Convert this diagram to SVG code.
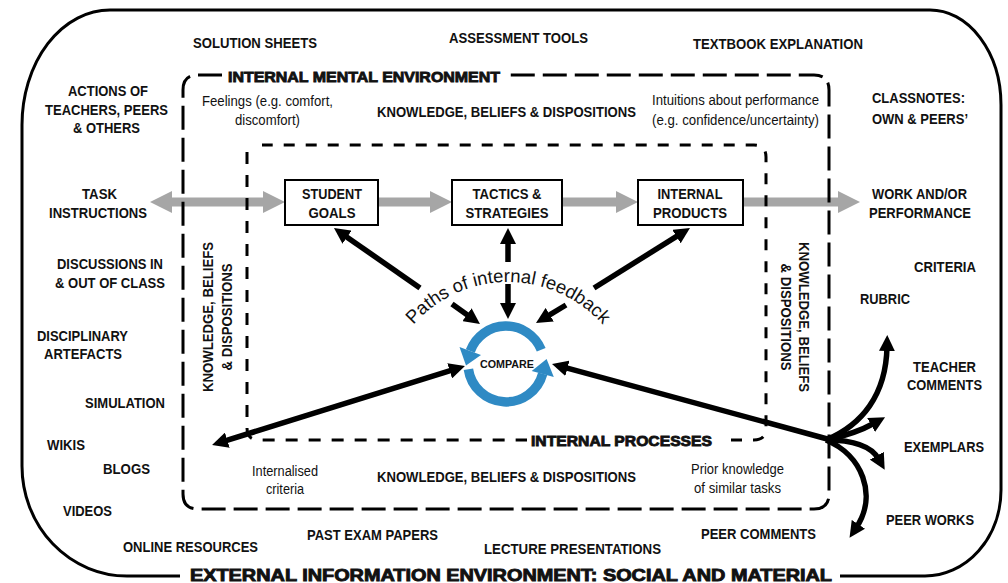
<svg xmlns="http://www.w3.org/2000/svg" width="1008" height="583" viewBox="0 0 1008 583">
<style>
text{font-family:"Liberation Sans",Arial,sans-serif;fill:#111;text-anchor:middle}
.b{font-size:15.5px;font-weight:bold}
.n{font-size:14px}
.h{font-size:15.5px;font-weight:bold;stroke:#111;stroke-width:0.9}
.c{font-size:11px;font-weight:bold}
.gray{fill:#a6a6a6}
.blk{stroke:#000;stroke-width:5.5;fill:none}
.blue{stroke:#2f8ac4;stroke-width:9.5;fill:none}
.box{fill:#fff;stroke:#000;stroke-width:2}
</style>
<defs>
<marker id="ah" viewBox="0 0 16 16" markerWidth="16" markerHeight="16" refX="4" refY="8" orient="auto-start-reverse" markerUnits="userSpaceOnUse">
<path d="M0,0 L16,8 L0,16 Z" fill="#000"/>
</marker>
<path id="arcText" d="M 411.5 327 A 126 126 0 0 1 604.5 327"/>
</defs>
<rect width="1008" height="583" fill="#fff"/>

<g id="frames">
<path d="M 180 576 L 127 576 A 105 110 0 0 1 22 466 L 22 125 A 88 115 0 0 1 110 10 L 930 10 A 71 95 0 0 1 1001 105 L 1001 490 A 76 86 0 0 1 925 576 L 840 576" fill="none" stroke="#000" stroke-width="3"/>
</g>

<g id="gray-arrows">
<polygon class="gray" points="150,202 172,191 172,197.5 263,197.5 263,191 285,202 263,213 263,206.5 172,206.5 172,213"/>
<polygon class="gray" points="378,197.5 430,197.5 430,191 452,202 430,213 430,206.5 378,206.5"/>
<polygon class="gray" points="562,197.5 616,197.5 616,191 638,202 616,213 616,206.5 562,206.5"/>
<polygon class="gray" points="743,197.5 838,197.5 838,191 860,202 838,213 838,206.5 743,206.5"/>
</g>

<g id="mental-environment">
<path d="M 222 75 L 198 75 Q 183 75 183 90 L 183 494 Q 183 509 198 509 L 814 509 Q 829 509 829 494 L 829 90 Q 829 75 814 75 L 507 75" fill="none" stroke="#000" stroke-width="3" stroke-dasharray="24 8"/>
<text class="h" x="364" y="82" textLength="272" lengthAdjust="spacingAndGlyphs">INTERNAL MENTAL ENVIRONMENT</text>
</g>

<g id="internal-processes">
<path d="M 247 152 L 247 428 Q 247 440 259 440 L 527 440" fill="none" stroke="#000" stroke-width="3" stroke-dasharray="12 11"/>
<path d="M 731 440 L 754 440 Q 766 440 766 428 L 766 157 Q 766 145 754 145 L 262 145" fill="none" stroke="#000" stroke-width="3" stroke-dasharray="11 11"/>
<text class="h" x="621.5" y="446" textLength="181" lengthAdjust="spacingAndGlyphs">INTERNAL PROCESSES</text>
</g>

<g id="student-goals">
<rect class="box" x="285" y="180" width="93" height="45"/>
<text class="b" x="332" y="199" textLength="60" lengthAdjust="spacingAndGlyphs">STUDENT</text>
<text class="b" x="332" y="218" textLength="47" lengthAdjust="spacingAndGlyphs">GOALS</text>
</g>
<g id="tactics-strategies">
<rect class="box" x="452" y="180" width="110" height="45"/>
<text class="b" x="507" y="199" textLength="69" lengthAdjust="spacingAndGlyphs">TACTICS &amp;</text>
<text class="b" x="507" y="218" textLength="83" lengthAdjust="spacingAndGlyphs">STRATEGIES</text>
</g>
<g id="internal-products">
<rect class="box" x="638" y="180" width="105" height="45"/>
<text class="b" x="690" y="199" textLength="65" lengthAdjust="spacingAndGlyphs">INTERNAL</text>
<text class="b" x="690" y="218" textLength="74" lengthAdjust="spacingAndGlyphs">PRODUCTS</text>
</g>

<g id="compare">
<path class="blue" d="M 541.2 349.8 A 38 38 0 0 0 470.3 351"/>
<polygon points="481,355 459.5,347 466,365.5" fill="#2f8ac4"/>
<path class="blue" d="M 468.4 369.3 A 38 38 0 0 0 542.7 373.8"/>
<polygon points="531.7,371 553.8,377 546.6,359" fill="#2f8ac4"/>
<text class="c" x="507" y="368" textLength="54" lengthAdjust="spacingAndGlyphs">COMPARE</text>
</g>

<g id="connectors">
<path class="blk" d="M 420 288 L 343.8 234.9" marker-end="url(#ah)"/>
<path class="blk" d="M 452 304 L 470.2 317" marker-end="url(#ah)"/>
<path class="blk" d="M 508 262 L 508 240" marker-end="url(#ah)"/>
<path class="blk" d="M 508 284 L 508 307" marker-end="url(#ah)"/>
<path class="blk" d="M 594 288 L 679.8 234.4" marker-end="url(#ah)"/>
<path class="blk" d="M 566 305 L 546.3 316.8" marker-end="url(#ah)"/>
<path class="blk" d="M 223.5 441.4 L 453.5 369.6" marker-start="url(#ah)" marker-end="url(#ah)"/>
<path class="blk" d="M 831 440 L 563.6 367.2" marker-end="url(#ah)"/>
<path class="blk" d="M 826 440 C 862 425, 886 395, 887 347" marker-end="url(#ah)"/>
<path class="blk" d="M 826 440 Q 855 434 874.6 423" marker-end="url(#ah)"/>
<path class="blk" d="M 826 440 Q 868 440 878.8 459.2" marker-end="url(#ah)"/>
<path class="blk" d="M 826 440 C 862 455, 878 495, 856.2 527.7" marker-end="url(#ah)"/>
</g>

<g id="feedback-label">
<text style="font-size:18.5px"><textPath href="#arcText" startOffset="50%" textLength="214" lengthAdjust="spacingAndGlyphs">Paths of internal feedback</textPath></text>
</g>

<g id="mental-labels">
<text class="n" x="267.5" y="106" textLength="131" lengthAdjust="spacingAndGlyphs">Feelings (e.g. comfort,</text>
<text class="n" x="267.5" y="125" textLength="65" lengthAdjust="spacingAndGlyphs">discomfort)</text>
<text class="b" x="506.5" y="117" textLength="259" lengthAdjust="spacingAndGlyphs">KNOWLEDGE, BELIEFS &amp; DISPOSITIONS</text>
<text class="n" x="735.5" y="105" textLength="167" lengthAdjust="spacingAndGlyphs">Intuitions about performance</text>
<text class="n" x="735.5" y="125" textLength="167" lengthAdjust="spacingAndGlyphs">(e.g. confidence/uncertainty)</text>
<text class="n" x="285" y="476" textLength="66" lengthAdjust="spacingAndGlyphs">Internalised</text>
<text class="n" x="285" y="494" textLength="38" lengthAdjust="spacingAndGlyphs">criteria</text>
<text class="b" x="506.5" y="482" textLength="259" lengthAdjust="spacingAndGlyphs">KNOWLEDGE, BELIEFS &amp; DISPOSITIONS</text>
<text class="n" x="737.5" y="474" textLength="93" lengthAdjust="spacingAndGlyphs">Prior knowledge</text>
<text class="n" x="737.5" y="493" textLength="87" lengthAdjust="spacingAndGlyphs">of similar tasks</text>
<g transform="translate(213,317) rotate(-90)">
<text class="b" x="0" y="0" textLength="150" lengthAdjust="spacingAndGlyphs">KNOWLEDGE, BELIEFS</text>
<text class="b" x="0" y="19" textLength="107" lengthAdjust="spacingAndGlyphs">&amp; DISPOSITIONS</text>
</g>
<g transform="translate(799,317) rotate(90)">
<text class="b" x="0" y="0" textLength="150" lengthAdjust="spacingAndGlyphs">KNOWLEDGE, BELIEFS</text>
<text class="b" x="0" y="18" textLength="107" lengthAdjust="spacingAndGlyphs">&amp; DISPOSITIONS</text>
</g>
</g>

<g id="external-labels">
<text class="b" x="255" y="48" textLength="124" lengthAdjust="spacingAndGlyphs">SOLUTION SHEETS</text>
<text class="b" x="518.5" y="43" textLength="139" lengthAdjust="spacingAndGlyphs">ASSESSMENT TOOLS</text>
<text class="b" x="778" y="49" textLength="170" lengthAdjust="spacingAndGlyphs">TEXTBOOK EXPLANATION</text>
<text class="b" x="108" y="96" textLength="80" lengthAdjust="spacingAndGlyphs">ACTIONS OF</text>
<text class="b" x="106.5" y="115" textLength="123" lengthAdjust="spacingAndGlyphs">TEACHERS, PEERS</text>
<text class="b" x="106.5" y="133" textLength="67" lengthAdjust="spacingAndGlyphs">&amp; OTHERS</text>
<text class="b" x="918.5" y="103" textLength="93" lengthAdjust="spacingAndGlyphs">CLASSNOTES:</text>
<text class="b" x="920" y="124" textLength="96" lengthAdjust="spacingAndGlyphs">OWN &amp; PEERS’</text>
<text class="b" x="99.5" y="199" textLength="35" lengthAdjust="spacingAndGlyphs">TASK</text>
<text class="b" x="98" y="218" textLength="98" lengthAdjust="spacingAndGlyphs">INSTRUCTIONS</text>
<text class="b" x="919.5" y="199" textLength="95" lengthAdjust="spacingAndGlyphs">WORK AND/OR</text>
<text class="b" x="920" y="218" textLength="102" lengthAdjust="spacingAndGlyphs">PERFORMANCE</text>
<text class="b" x="110" y="269" textLength="106" lengthAdjust="spacingAndGlyphs">DISCUSSIONS IN</text>
<text class="b" x="110" y="288" textLength="110" lengthAdjust="spacingAndGlyphs">&amp; OUT OF CLASS</text>
<text class="b" x="82.5" y="341" textLength="91" lengthAdjust="spacingAndGlyphs">DISCIPLINARY</text>
<text class="b" x="83" y="359" textLength="78" lengthAdjust="spacingAndGlyphs">ARTEFACTS</text>
<text class="b" x="125" y="408" textLength="80" lengthAdjust="spacingAndGlyphs">SIMULATION</text>
<text class="b" x="66" y="450" textLength="38" lengthAdjust="spacingAndGlyphs">WIKIS</text>
<text class="b" x="126.5" y="474" textLength="47" lengthAdjust="spacingAndGlyphs">BLOGS</text>
<text class="b" x="87.5" y="516" textLength="49" lengthAdjust="spacingAndGlyphs">VIDEOS</text>
<text class="b" x="190.5" y="552" textLength="135" lengthAdjust="spacingAndGlyphs">ONLINE RESOURCES</text>
<text class="b" x="372.5" y="540" textLength="131" lengthAdjust="spacingAndGlyphs">PAST EXAM PAPERS</text>
<text class="b" x="572.5" y="554" textLength="177" lengthAdjust="spacingAndGlyphs">LECTURE PRESENTATIONS</text>
<text class="b" x="758.5" y="539" textLength="115" lengthAdjust="spacingAndGlyphs">PEER COMMENTS</text>
<text class="b" x="930" y="525" textLength="88" lengthAdjust="spacingAndGlyphs">PEER WORKS</text>
<text class="b" x="944" y="452" textLength="80" lengthAdjust="spacingAndGlyphs">EXEMPLARS</text>
<text class="b" x="944.5" y="372" textLength="63" lengthAdjust="spacingAndGlyphs">TEACHER</text>
<text class="b" x="944.5" y="390" textLength="75" lengthAdjust="spacingAndGlyphs">COMMENTS</text>
<text class="b" x="945" y="272" textLength="62" lengthAdjust="spacingAndGlyphs">CRITERIA</text>
<text class="b" x="885" y="304" textLength="50" lengthAdjust="spacingAndGlyphs">RUBRIC</text>
<text class="h" x="511" y="581" style="font-size:17px" textLength="642" lengthAdjust="spacingAndGlyphs">EXTERNAL INFORMATION ENVIRONMENT: SOCIAL AND MATERIAL</text>
</g>
</svg>
